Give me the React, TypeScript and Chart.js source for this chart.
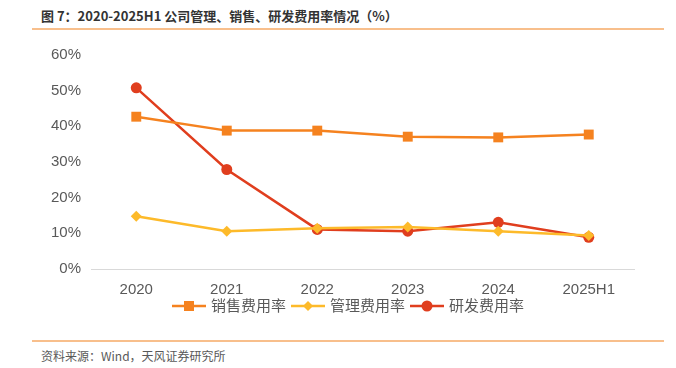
import React, { useEffect, useRef } from "react";
import { Chart, registerables } from "chart.js";

Chart.register(...registerables);

const categories = ["2020", "2021", "2022", "2023", "2024", "2025H1"];
const salesRate = [42.7, 38.8, 38.8, 37.1, 36.9, 37.7];
const adminRate = [14.8, 10.6, 11.4, 11.8, 10.6, 9.4];
const rdRate = [50.8, 27.9, 11.1, 10.6, 13.1, 8.9];
const yTicks = [0, 10, 20, 30, 40, 50, 60];

const seriesNames = ["销售费用率", "管理费用率", "研发费用率"];
const colors = ["#F5821F", "#FDBA2A", "#E03E1E"];
const pointStyles = ["rect", "rectRot", "circle"];
const pointRadii = [7, 5.5, 5.5];

const legendFont = "15px 'Liberation Sans', 'Noto Sans CJK SC', sans-serif";

const lineLegendPlugin = {
  id: "lineLegend",
  afterDraw(chart: any) {
    const ctx: CanvasRenderingContext2D = chart.ctx;
    const area = chart.chartArea;
    const datasets = chart.data.datasets;
    ctx.save();
    ctx.font = legendFont;
    const iconW = 34;
    const gapIconText = 5;
    const gapItems = 5;
    const widths = datasets.map((ds: any) => iconW + gapIconText + ctx.measureText(ds.label).width);
    const total = widths.reduce((a: number, b: number) => a + b, 0) + gapItems * (widths.length - 1);
    let x = chart.width / 2 + 10 - total / 2;
    const y = area.bottom + 37;
    datasets.forEach((ds: any, i: number) => {
      const color = ds.borderColor;
      ctx.strokeStyle = color;
      ctx.fillStyle = color;
      ctx.lineWidth = 2.5;
      ctx.beginPath();
      ctx.moveTo(x, y);
      ctx.lineTo(x + iconW, y);
      ctx.stroke();
      const cx = x + iconW / 2;
      ctx.beginPath();
      if (ds.pointStyle === "rect") {
        ctx.rect(cx - 5, y - 5, 10, 10);
      } else if (ds.pointStyle === "rectRot") {
        ctx.moveTo(cx, y - 5);
        ctx.lineTo(cx + 5, y);
        ctx.lineTo(cx, y + 5);
        ctx.lineTo(cx - 5, y);
        ctx.closePath();
      } else {
        ctx.arc(cx, y, 5.5, 0, Math.PI * 2);
      }
      ctx.fill();
      ctx.fillStyle = "#595959";
      ctx.textBaseline = "middle";
      ctx.textAlign = "left";
      ctx.fillText(ds.label, x + iconW + gapIconText, y + 1);
      x += widths[i] + gapItems;
    });
    ctx.restore();
  },
};

export default function App() {
  const ref = useRef<HTMLCanvasElement>(null);
  useEffect(() => {
    document.body.style.margin = "0";
    const data = [salesRate, adminRate, rdRate];
    const chart = new Chart(ref.current!, {
      type: "line",
      data: {
        labels: categories,
        datasets: seriesNames.map((name, i) => ({
          label: name,
          data: data[i],
          borderColor: colors[i],
          backgroundColor: colors[i],
          borderWidth: 2.5,
          pointStyle: pointStyles[i] as any,
          pointRadius: pointRadii[i],
          pointHoverRadius: pointRadii[i],
          pointBorderWidth: 0,
          tension: 0,
        })),
      },
      plugins: [lineLegendPlugin],
      options: {
        animation: false,
        responsive: false,
        maintainAspectRatio: false,
        layout: { padding: { left: 41, right: 42, top: 18, bottom: 27 } },
        plugins: {
          tooltip: { enabled: false },
          legend: { display: false },
        },
        scales: {
          x: {
            offset: true,
            grid: { display: false, drawTicks: false },
            border: { display: true, color: "#D9D9D9", width: 1 },
            afterFit: (axis: any) => {
              axis.height = 30;
            },
            ticks: {
              padding: 12,
              color: "#595959",
              font: { family: "'Liberation Sans', Arial, sans-serif", size: 15 },
            },
          },
          y: {
            min: 0,
            max: 60,
            grid: { display: false, drawTicks: false },
            border: { display: false },
            afterBuildTicks: (axis: any) => {
              axis.ticks = yTicks.map((v) => ({ value: v }));
            },
            ticks: {
              padding: 10,
              color: "#595959",
              font: { family: "'Liberation Sans', Arial, sans-serif", size: 15 },
              callback: (v: any) => v + "%",
            },
          },
        },
      },
    });
    return () => chart.destroy();
  }, []);

  return (
    <div style={{ position: "relative", width: 676, height: 368, background: "#fff", overflow: "hidden" }}>
      <div
        style={{
          position: "absolute",
          left: 41,
          top: 7,
          fontFamily: "'Noto Sans CJK SC', sans-serif",
          fontWeight: 700,
          fontSize: 13,
          color: "#333333",
          whiteSpace: "nowrap",
          lineHeight: "18px",
        }}
      >
        图 7：2020-2025H1 公司管理、销售、研发费用率情况（%）
      </div>
      <div style={{ position: "absolute", left: 32, width: 632, top: 28, height: 2, background: "#F8BF8C" }} />
      <canvas ref={ref} width={676} height={290} style={{ position: "absolute", left: 0, top: 36, width: 676, height: 290 }} />
      <div style={{ position: "absolute", left: 32, width: 632, top: 340, height: 2, background: "#F8BF8C" }} />
      <div
        style={{
          position: "absolute",
          left: 41,
          top: 348,
          fontFamily: "'Noto Sans CJK SC', sans-serif",
          fontSize: 12,
          color: "#595959",
          whiteSpace: "nowrap",
          lineHeight: "16px",
        }}
      >
        资料来源：Wind，天风证券研究所
      </div>
    </div>
  );
}
